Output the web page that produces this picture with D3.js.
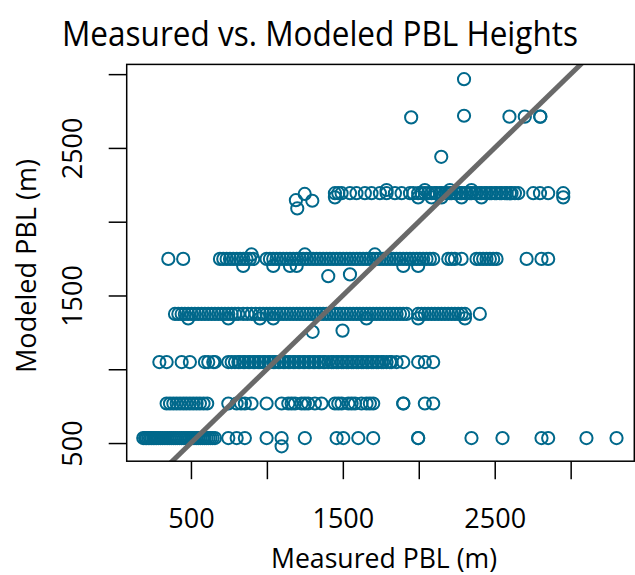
<!DOCTYPE html>
<html>
<head>
<meta charset="utf-8">
<script src="https://cdn.jsdelivr.net/npm/d3@7"></script>
<style>
  body { margin: 0; background: #ffffff; }
  text { font-family: "Open Sans", "Noto Sans", sans-serif; fill: #000; }
</style>
</head>
<body>
<script>
// ---- DATA: [measured, modeled] (m) ----
const level534 = [186,198,208,219,230,241,252,263,274,287,300,314,329,343,357,370,384,397,410,425,439,453,467,480,493,507,520,534,548,562,577,590,603,616,629,643,658,746,801,855,998,1097,1250,1459,1503,1602,1700,1996,1996,2347,2551,2808,2852,3104,3302];
const level768 = [340,362,384,406,428,450,471,493,515,537,559,583,607,746,801,830,855,899,998,1097,1141,1163,1185,1228,1250,1272,1316,1360,1448,1470,1492,1536,1558,1580,1623,1656,1678,1700,1898,1898,2040,2095];
const level1049 = [292,340,439,493,592,614,647,658,746,768,790,812,823,845,855,877,888,910,921,943,954,976,987,1009,1020,1042,1053,1075,1086,1108,1119,1141,1152,1174,1185,1206,1217,1239,1250,1272,1283,1305,1316,1338,1349,1371,1382,1404,1426,1437,1459,1470,1492,1503,1525,1536,1558,1569,1591,1602,1623,1634,1656,1667,1689,1700,1722,1733,1755,1766,1788,1810,1821,1854,1898,1996,2040,2095];
const level1375 = [395,417,439,460,482,504,526,548,570,592,614,636,658,680,702,724,746,768,790,812,844,871,899,926,954,976,998,1020,1042,1064,1086,1108,1130,1152,1174,1196,1217,1239,1261,1283,1305,1327,1349,1371,1393,1415,1437,1459,1481,1503,1525,1547,1569,1591,1612,1634,1656,1678,1700,1722,1744,1766,1788,1810,1832,1854,1876,1898,1920,1996,2018,2040,2062,2084,2106,2128,2150,2172,2194,2216,2238,2260,2282,2304,2402];
const level1748 = [351,449,691,713,735,757,779,801,823,845,866,888,910,998,1020,1042,1064,1086,1108,1130,1152,1174,1196,1217,1239,1261,1283,1305,1327,1349,1371,1393,1415,1437,1459,1481,1503,1525,1547,1569,1591,1612,1634,1656,1678,1700,1722,1744,1766,1788,1810,1832,1854,1876,1898,1920,1942,1964,1986,2007,2029,2051,2073,2095,2194,2216,2238,2282,2380,2402,2424,2446,2468,2490,2512,2710,2808,2852];
const level2193 = [1448,1470,1492,1547,1590,1645,1689,1744,1788,1843,1887,1942,1964,1996,2018,2040,2062,2084,2106,2117,2139,2150,2172,2183,2205,2216,2238,2249,2271,2282,2304,2315,2337,2347,2369,2380,2402,2413,2435,2446,2468,2479,2501,2512,2534,2545,2567,2578,2600,2611,2633,2655,2754,2798,2852,2951];
const otherPoints = [
  [1097,478],
  [482,1345],[746,1345],[954,1345],[1042,1345],[1656,1345],[1996,1345],[2304,1345],
  [1301,1254],[1498,1262],
  [844,1700],[1042,1700],[1152,1700],[1196,1700],[1898,1700],[1996,1700],
  [899,1778],[1250,1778],[1711,1778],
  [1404,1631],[1547,1643],
  [1191,2146],[1200,2090],[1249,2188],[1299,2142],
  [1448,2165],[1996,2165],[2084,2165],[2150,2165],[2282,2165],[2413,2165],[2951,2165],
  [1788,2215],[2040,2215],[2205,2215],[2347,2215],
  [2148,2440],
  [1950,2707],[2298,2718],[2597,2712],[2698,2712],[2800,2712],[2800,2712],
  [2298,2966]
];
const xTicks = [500,1000,1500,2000,2500,3000];
const xTickLabels = ["500","","1500","","2500",""];
const yTicks = [500,1000,1500,2000,2500,3000];
const yTickLabels = ["500","","1500","","2500",""];
const titleText = "Measured vs. Modeled PBL Heights";
const xTitle = "Measured PBL (m)";
const yTitle = "Modeled PBL (m)";

// ---- build points ----
const points = [];
[[level534,534],[level768,768],[level1049,1049],[level1375,1375],[level1748,1748],[level2193,2193]]
  .forEach(([xs, lv]) => xs.forEach(v => points.push([v, lv])));
otherPoints.forEach(p => points.push(p));

// ---- layout ----
const W = 635, H = 575;
const box = {left: 126.7, right: 634.3, top: 64.4, bottom: 461.2};
const x = d3.scaleLinear().domain([77, 3419]).range([box.left, box.right]);
const y = d3.scaleLinear().domain([377, 3066]).range([box.bottom, box.top]);

const svg = d3.select("body").append("svg").attr("width", W).attr("height", H);

svg.append("defs").append("clipPath").attr("id", "clip")
  .append("rect").attr("x", box.left).attr("y", box.top)
  .attr("width", box.right - box.left).attr("height", box.bottom - box.top);

// points
svg.append("g").selectAll("circle").data(points).join("circle")
  .attr("cx", d => x(d[0])).attr("cy", d => y(d[1])).attr("r", 6.1)
  .attr("fill", "none").attr("stroke", "#00688B").attr("stroke-width", 2);

// 1:1 line
const dmin = 0, dmax = 3600;
svg.append("line").attr("clip-path", "url(#clip)")
  .attr("x1", x(dmin)).attr("y1", y(dmin)).attr("x2", x(dmax)).attr("y2", y(dmax))
  .attr("stroke", "#696969").attr("stroke-width", 5);

// box
svg.append("rect").attr("x", box.left).attr("y", box.top)
  .attr("width", box.right - box.left).attr("height", box.bottom - box.top)
  .attr("fill", "none").attr("stroke", "#000").attr("stroke-width", 1.5);

// x axis
const xa = svg.append("g").attr("transform", `translate(0,${box.bottom})`)
  .call(d3.axisBottom(x).tickValues(xTicks).tickSize(18).tickPadding(30)
    .tickFormat((d, i) => xTickLabels[i]));
xa.select(".domain").remove();
xa.selectAll("line").attr("stroke", "#000").attr("stroke-width", 1.5);
xa.selectAll("text").attr("font-size", 27).attr("font-family", "Open Sans").attr("fill", "#000");

// y axis
const ya = svg.append("g").attr("transform", `translate(${box.left},0)`)
  .call(d3.axisLeft(y).tickValues(yTicks).tickSize(18)
    .tickFormat((d, i) => yTickLabels[i]));
ya.select(".domain").remove();
ya.selectAll("line").attr("stroke", "#000").attr("stroke-width", 1.5);
ya.selectAll("text")
  .attr("transform", "rotate(-90)")
  .attr("x", 0).attr("y", -45).attr("dy", null)
  .attr("text-anchor", "middle")
  .attr("font-size", 27).attr("font-family", "Open Sans").attr("fill", "#000");

// titles
svg.append("text").attr("x", 320).attr("y", 46).attr("text-anchor", "middle")
  .attr("font-size", 35).attr("textLength", 516).attr("lengthAdjust", "spacingAndGlyphs")
  .text(titleText);
svg.append("text").attr("x", 384).attr("y", 568).attr("text-anchor", "middle")
  .attr("font-size", 28).attr("textLength", 226).attr("lengthAdjust", "spacingAndGlyphs")
  .text(xTitle);
svg.append("text").attr("transform", "translate(36,266) rotate(-90)").attr("text-anchor", "middle")
  .attr("font-size", 28).attr("textLength", 214).attr("lengthAdjust", "spacingAndGlyphs")
  .text(yTitle);
</script>
</body>
</html>
